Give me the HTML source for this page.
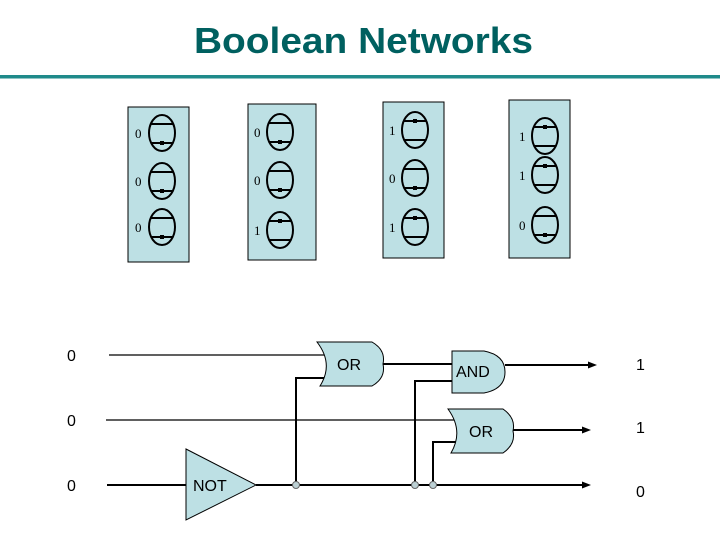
<!DOCTYPE html>
<html><head><style>html,body{margin:0;padding:0;background:#fff}svg{display:block}</style></head>
<body>
<svg width="720" height="540" xmlns="http://www.w3.org/2000/svg" font-family="Liberation Sans, sans-serif">
<text x="194" y="53" font-size="36" font-weight="bold" fill="#006060" textLength="339" lengthAdjust="spacingAndGlyphs">Boolean Networks</text>
<rect x="0" y="75" width="720" height="3.5" fill="#1f8a8a"/>
<defs>
<g id="e0"><ellipse cx="0" cy="0" rx="13" ry="18" fill="none" stroke="#000" stroke-width="2"/><line x1="-11" y1="-9" x2="11" y2="-9" stroke="#000" stroke-width="2"/><line x1="-11" y1="10" x2="11" y2="10" stroke="#000" stroke-width="2"/><rect x="-2" y="8" width="4" height="4" fill="#000"/></g>
<g id="e1"><ellipse cx="0" cy="0" rx="13" ry="18" fill="none" stroke="#000" stroke-width="2"/><line x1="-11" y1="-9" x2="11" y2="-9" stroke="#000" stroke-width="2"/><line x1="-11" y1="10" x2="11" y2="10" stroke="#000" stroke-width="2"/><rect x="-2" y="-11" width="4" height="4" fill="#000"/></g>
</defs>
<g fill="#bde0e4" stroke="#000" stroke-width="1">
<rect x="128" y="107" width="61" height="155"/>
<rect x="248" y="104" width="68" height="156"/>
<rect x="383" y="102" width="61" height="156"/>
<rect x="509" y="100" width="61" height="158"/>
</g>
<g font-family="Liberation Serif, serif" font-size="13" fill="#000">
<use href="#e0" x="162" y="133"/><text x="135" y="138">0</text>
<use href="#e0" x="162" y="181"/><text x="135" y="186">0</text>
<use href="#e0" x="162" y="227"/><text x="135" y="232">0</text>
<use href="#e0" x="280" y="132"/><text x="254" y="137">0</text>
<use href="#e0" x="280" y="180"/><text x="254" y="185">0</text>
<use href="#e1" x="280" y="230"/><text x="254" y="235">1</text>
<use href="#e1" x="415" y="130"/><text x="389" y="135">1</text>
<use href="#e0" x="415" y="178"/><text x="389" y="183">0</text>
<use href="#e1" x="415" y="227"/><text x="389" y="232">1</text>
<use href="#e1" x="545" y="136"/><text x="519" y="141">1</text>
<use href="#e1" x="545" y="175"/><text x="519" y="180">1</text>
<use href="#e0" x="545" y="225"/><text x="519" y="230">0</text>
</g>
<g stroke="#000" fill="none">
<line x1="109" y1="355" x2="330" y2="355" stroke-width="1.3"/>
<line x1="106" y1="420" x2="458" y2="420" stroke-width="1.3"/>
<line x1="107" y1="485" x2="186" y2="485" stroke-width="2"/>
<line x1="256" y1="485" x2="586" y2="485" stroke-width="2"/>
<polyline points="296,485 296,378 325,378" stroke-width="2"/>
<line x1="383" y1="364" x2="452" y2="364" stroke-width="2"/>
<polyline points="415,485 415,381 452,381" stroke-width="2"/>
<polyline points="433,485 433,442 456,442" stroke-width="2"/>
<line x1="505" y1="365" x2="592" y2="365" stroke-width="2"/>
<line x1="513" y1="430" x2="586" y2="430" stroke-width="2"/>
</g>
<g fill="#000">
<polygon points="597,365 588,361.5 588,368.5"/>
<polygon points="591,430 582,426.5 582,433.5"/>
<polygon points="591,485 582,481.5 582,488.5"/>
</g>
<g fill="#bde0e4" stroke="#000" stroke-width="1">
<path d="M317,342 L372,342 Q386,350 383,364 Q386,378 372,386 L320,386 Q334,364 317,342 Z"/>
<path d="M452,351 L484,351 Q505,355 505,372 Q505,389 484,393 L452,393 Z"/>
<path d="M448,409 L503,409 Q516,418 513,431 Q516,444 503,453 L451,453 Q464,431 448,409 Z"/>
<polygon points="186,449 256,485 186,520"/>
</g>
<g fill="#bcd0d4" stroke="#666" stroke-width="1">
<circle cx="296" cy="485" r="3.5"/><circle cx="415" cy="485" r="3.5"/><circle cx="433" cy="485" r="3.5"/>
</g>
<g font-size="16" fill="#000">
<text x="337" y="370">OR</text>
<text x="456" y="377">AND</text>
<text x="469" y="437">OR</text>
<text x="193" y="491">NOT</text>
<text x="67" y="361">0</text>
<text x="67" y="426">0</text>
<text x="67" y="491">0</text>
<text x="636" y="370">1</text>
<text x="636" y="433">1</text>
<text x="636" y="497">0</text>
</g>
</svg>
</body></html>
